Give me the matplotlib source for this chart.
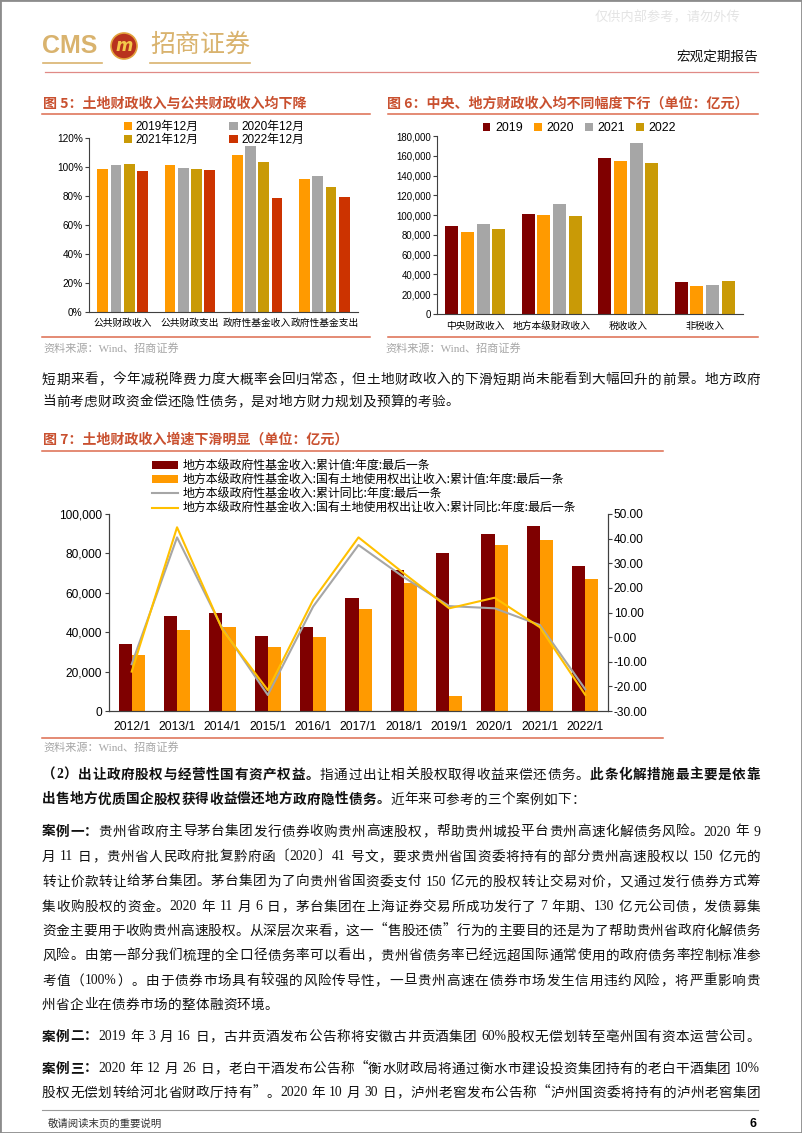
import re
import numpy as np
import matplotlib
matplotlib.use('Agg')
import matplotlib.pyplot as plt
import matplotlib.transforms as mtransforms
from matplotlib.patches import Patch, Rectangle, Ellipse
from matplotlib.lines import Line2D
from matplotlib.ticker import FuncFormatter, MultipleLocator

plt.rcParams['font.family'] = ['Liberation Sans', 'Noto Sans CJK SC', 'DejaVu Sans']
plt.rcParams['axes.unicode_minus'] = False

# ---------------- 数据 ----------------
# 图5
fig5_cats = ['公共财政收入', '公共财政支出', '政府性基金收入', '政府性基金支出']
fig5_labels = ['2019年12月', '2020年12月', '2021年12月', '2022年12月']
fig5_2019 = [98.8, 101.5, 108.5, 91.6]
fig5_2020 = [101.1, 99.0, 114.2, 93.5]
fig5_2021 = [102.2, 98.3, 103.6, 86.5]
fig5_2022 = [96.9, 97.6, 78.9, 79.6]

# 图6 (亿元)
fig6_cats = ['中央财政收入', '地方本级财政收入', '税收收入', '非税收入']
fig6_labels = ['2019', '2020', '2021', '2022']
fig6_2019 = [89300, 101100, 158000, 32400]
fig6_2020 = [82800, 100100, 154300, 28600]
fig6_2021 = [91500, 111100, 172700, 29700]
fig6_2022 = [85800, 99600, 153100, 33000]

# 图7
fig7_years = ['2012/1', '2013/1', '2014/1', '2015/1', '2016/1', '2017/1',
              '2018/1', '2019/1', '2020/1', '2021/1', '2022/1']
fund_income = [34200, 48000, 49900, 38200, 42500, 57600, 71400, 80400, 89900, 93900, 73600]
land_income = [28500, 41200, 42600, 32300, 37400, 52000, 65000, 7600, 84100, 86900, 66800]
fund_yoy = [-11.0, 40.5, 3.5, -23.5, 12.4, 37.4, 24.3, 12.6, 11.7, 4.9, -21.2]
land_yoy = [-14.0, 44.6, 3.0, -21.5, 15.1, 40.5, 25.9, 11.7, 16.0, 4.0, -23.5]
fig7_legend = ['地方本级政府性基金收入:累计值:年度:最后一条',
               '地方本级政府性基金收入:国有土地使用权出让收入:累计值:年度:最后一条',
               '地方本级政府性基金收入:累计同比:年度:最后一条',
               '地方本级政府性基金收入:国有土地使用权出让收入:累计同比:年度:最后一条']

# 正文
para1 = [
    [('短期来看，今年减税降费力度大概率会回归常态，但土地财政收入的下滑短期尚未能看到大幅回升的前景。地方政府', False)],
    [('当前考虑财政资金偿还隐性债务，是对地方财力规划及预算的考验。', False)],
]
para2 = [
    [('（2）出让政府股权与经营性国有资产权益。', True), ('指通过出让相关股权取得收益来偿还债务。', False),
     ('此条化解措施最主要是依靠', True)],
    [('出售地方优质国企股权获得收益偿还地方政府隐性债务。', True), ('近年来可参考的三个案例如下：', False)],
]
case1 = [
    [('案例一：', True), ('贵州省政府主导茅台集团发行债券收购贵州高速股权，帮助贵州城投平台贵州高速化解债务风险。2020 年 9', False)],
    [('月 11 日，贵州省人民政府批复黔府函〔2020〕41 号文，要求贵州省国资委将持有的部分贵州高速股权以 150 亿元的', False)],
    [('转让价款转让给茅台集团。茅台集团为了向贵州省国资委支付 150 亿元的股权转让交易对价，又通过发行债券方式筹', False)],
    [('集收购股权的资金。2020 年 11 月 6 日，茅台集团在上海证券交易所成功发行了 7 年期、130 亿元公司债，发债募集', False)],
    [('资金主要用于收购贵州高速股权。从深层次来看，这一“售股还债”行为的主要目的还是为了帮助贵州省政府化解债务', False)],
    [('风险。由第一部分我们梳理的全口径债务率可以看出，贵州省债务率已经远超国际通常使用的政府债务率控制标准参', False)],
    [('考值（100%）。由于债券市场具有较强的风险传导性，一旦贵州高速在债券市场发生信用违约风险，将严重影响贵', False)],
    [('州省企业在债券市场的整体融资环境。', False)],
]
case2 = [
    [('案例二：', True), ('2019 年 3 月 16 日，古井贡酒发布公告称将安徽古井贡酒集团 60%股权无偿划转至亳州国有资本运营公司。', False)],
]
case3 = [
    [('案例三：', True), ('2020 年 12 月 26 日，老白干酒发布公告称“衡水财政局将通过衡水市建设投资集团持有的老白干酒集团 10%', False)],
    [('股权无偿划转给河北省财政厅持有”。2020 年 10 月 30 日，泸州老窖发布公告称“泸州国资委将持有的泸州老窖集团', False)],
]

# ---------------- 画布 ----------------
W, H = 802, 1133
fig = plt.figure(figsize=(W / 100, H / 100), dpi=100)
fig.patch.set_facecolor('white')
# 像素坐标（左上角为原点）
PX = mtransforms.Affine2D().scale(1 / W, -1 / H).translate(0, 1) + fig.transFigure
renderer = fig.canvas.get_renderer()

CJK = ['Noto Sans CJK SC', 'DejaVu Sans']
SERIF = ['Liberation Serif', 'Noto Sans CJK SC']
RED_LINE = '#DC6B4E'
TITLE_COL = '#C9502F'
GOLD = '#D9B36E'
TITLE_SIZE = 10.1


def ax_at(left, top, right, bottom):
    return fig.add_axes([left / W, 1 - bottom / H, (right - left) / W, (bottom - top) / H])


def hline(y, x0, x1, color=RED_LINE, lw=1.1):
    fig.add_artist(Line2D([x0, x1], [y, y], transform=PX, color=color, lw=lw))


def ptext(x, y, s, **kw):
    kw.setdefault('va', 'center')
    return fig.text(x, y, s, transform=PX, **kw)


# 正文逐字排版，两端对齐
def font_for(tok):
    return SERIF if tok.isascii() else CJK


_wcache = {}


def tok_width(tok, bold, size):
    key = (tok, bold, size)
    if key not in _wcache:
        if tok == ' ':
            _wcache[key] = size * 100 / 72 * 0.25
        else:
            t = fig.text(0, 0, tok, fontsize=size, family=font_for(tok),
                         fontweight='bold' if bold else 'normal')
            _wcache[key] = t.get_window_extent(renderer).width
            t.remove()
    return _wcache[key]


def draw_line(y, segments, justify=True, x0=42, x1=760, size=9.8):
    toks = []
    for text, bold in segments:
        for tk in re.findall(r'[0-9A-Za-z%.]+| |.', text):
            toks.append((tk, bold))
    widths = [tok_width(t, b, size) for t, b in toks]
    gap = 0.3
    if justify and len(toks) > 1:
        gap = (x1 - x0 - sum(widths)) / (len(toks) - 1)
    x = x0
    for (tk, b), w in zip(toks, widths):
        if tk != ' ':
            fig.text(x, y + 4.5, tk, transform=PX, fontsize=size, family=font_for(tk),
                     fontweight='bold' if b else 'normal', va='baseline', ha='left',
                     color='#111111')
        x += w + gap


def draw_para(ys, lines, last_justify=False):
    for i, (y, segs) in enumerate(zip(ys, lines)):
        last = i == len(lines) - 1
        draw_line(y, segs, justify=(not last) or last_justify)


# ---------------- 页眉 ----------------
fig.add_artist(Rectangle((0, 0), 1, 1, transform=fig.transFigure, fill=False,
                         edgecolor='#8c8c8c', lw=2))
ptext(595, 18, '仅供内部参考，请勿外传', fontsize=9.5, family=CJK, color='#e4e4e4')
ptext(42, 46, 'CMS', fontsize=18, fontweight='bold', color=GOLD, family=['Liberation Sans'])
fig.add_artist(Ellipse((124, 46), 26, 26, transform=PX, facecolor='#B8321E',
                       edgecolor='#E2A23C', lw=1.2))
ptext(124, 46, 'm', fontsize=12, fontweight='bold', style='italic', color='#F4C84A',
      ha='center', family=['DejaVu Sans'])
ptext(150, 45, '招商证券', fontsize=18, color=GOLD, family=CJK)
hline(63, 43, 102, color=GOLD, lw=1.2)
hline(63, 150, 250, color=GOLD, lw=1.2)
hline(72, 45, 758, color='#E08A86', lw=0.9)
ptext(758, 57, '宏观定期报告', fontsize=9.8, family=CJK, ha='right', color='#111111')

# ---------------- 图5 ----------------
ptext(43, 104, '图 5：土地财政收入与公共财政收入均下降', fontsize=TITLE_SIZE, fontweight='bold',
      family=CJK, color=TITLE_COL)
hline(114, 42, 370)
hline(337, 42, 370)
ptext(43, 348, '资料来源：Wind、招商证券', fontsize=8, family=SERIF, color='#a6a6a6')

ax5 = ax_at(89, 138, 358, 312)
x5 = np.arange(len(fig5_cats))
colors5 = ['#FF9A00', '#A6A6A6', '#C99A06', '#CC3300']
bars5 = []
for k, (vals, col, lab) in enumerate(zip([fig5_2019, fig5_2020, fig5_2021, fig5_2022],
                                          colors5, fig5_labels)):
    bars5.append(ax5.bar(x5 + (k - 1.5) * 0.198, vals, width=0.16, color=col, label=lab))
ax5.set_xlim(-0.5, 3.5)
ax5.set_ylim(0, 120)
ax5.yaxis.set_major_locator(MultipleLocator(20))
ax5.yaxis.set_major_formatter(FuncFormatter(lambda v, p: f'{v:.0f}%'))
ax5.set_xticks(x5, fig5_cats, family=CJK)
ax5.tick_params(axis='x', length=0, pad=4, labelsize=7)
ax5.tick_params(axis='y', length=3, width=0.8, pad=1.5, labelsize=7.2, color='#404040')
for s in ['top', 'right']:
    ax5.spines[s].set_visible(False)
for s in ['left', 'bottom']:
    ax5.spines[s].set_color('#404040')
    ax5.spines[s].set_linewidth(0.8)
order = [0, 2, 1, 3]
ax5.legend([bars5[i] for i in order], [fig5_labels[i] for i in order], ncol=2,
           loc='upper left', bbox_to_anchor=(124, 121), bbox_transform=PX,
           frameon=False, borderpad=0, borderaxespad=0,
           handlelength=0.7, handleheight=0.7, handletextpad=0.3,
           columnspacing=2.6, labelspacing=0.08,
           prop={'family': ['Liberation Sans', 'Noto Sans CJK SC'], 'size': 8.5})

# ---------------- 图6 ----------------
ptext(387, 104, '图 6：中央、地方财政收入均不同幅度下行（单位：亿元）', fontsize=TITLE_SIZE,
      fontweight='bold', family=CJK, color=TITLE_COL)
hline(114, 388, 758)
hline(337, 388, 758)
ptext(385, 348, '资料来源：Wind、招商证券', fontsize=8, family=SERIF, color='#a6a6a6')

ax6 = ax_at(437, 136, 743, 314)
x6 = np.arange(len(fig6_cats))
colors6 = ['#7F0000', '#FF9A00', '#A6A6A6', '#C99A06']
for k, (vals, col, lab) in enumerate(zip([fig6_2019, fig6_2020, fig6_2021, fig6_2022],
                                          colors6, fig6_labels)):
    ax6.bar(x6 + (k - 1.5) * 0.205, vals, width=0.17, color=col, label=lab)
ax6.set_xlim(-0.5, 3.5)
ax6.set_ylim(0, 180000)
ax6.yaxis.set_major_locator(MultipleLocator(20000))
ax6.yaxis.set_major_formatter(FuncFormatter(lambda v, p: f'{v:,.0f}'))
ax6.set_xticks(x6, fig6_cats, family=CJK)
ax6.tick_params(axis='x', length=0, pad=5, labelsize=7)
ax6.tick_params(axis='y', length=3, width=0.8, pad=1.5, labelsize=6.9, color='#404040')
for s in ['top', 'right']:
    ax6.spines[s].set_visible(False)
for s in ['left', 'bottom']:
    ax6.spines[s].set_color('#404040')
    ax6.spines[s].set_linewidth(0.8)
ax6.legend(ncol=4, loc='upper left', bbox_to_anchor=(483, 122), bbox_transform=PX,
           frameon=False, borderpad=0, borderaxespad=0, fontsize=8.9,
           handlelength=0.6, handleheight=0.6, handletextpad=0.4, columnspacing=0.9)

# ---------------- 正文段落1 ----------------
draw_para([379, 401], para1)

# ---------------- 图7 ----------------
ptext(43, 440, '图 7：土地财政收入增速下滑明显（单位：亿元）', fontsize=TITLE_SIZE, fontweight='bold',
      family=CJK, color=TITLE_COL)
hline(451, 42, 663)
hline(738, 42, 663)
ptext(43, 747, '资料来源：Wind、招商证券', fontsize=8, family=SERIF, color='#a6a6a6')

ax7 = ax_at(109, 514, 608, 711)
x7 = np.arange(len(fig7_years))
ax7.bar(x7 - 0.145, fund_income, width=0.29, color='#7F0000')
ax7.bar(x7 + 0.145, land_income, width=0.29, color='#FF9A00')
ax7.set_xlim(-0.5, len(fig7_years) - 0.5)
ax7.set_ylim(0, 100000)
ax7.yaxis.set_major_locator(MultipleLocator(20000))
ax7.yaxis.set_major_formatter(FuncFormatter(lambda v, p: f'{v:,.0f}'))
ax7.set_xticks(x7, fig7_years)
ax7.tick_params(axis='x', length=0, pad=7, labelsize=8.7)
ax7.tick_params(axis='y', length=3, width=0.8, pad=2, labelsize=8.6, color='#404040')
ax8 = ax7.twinx()
ax8.plot(x7, fund_yoy, color='#A6A6A6', lw=1.5)
ax8.plot(x7, land_yoy, color='#FFC000', lw=1.5)
ax8.set_ylim(-30, 50)
ax8.yaxis.set_major_locator(MultipleLocator(10))
ax8.yaxis.set_major_formatter(FuncFormatter(lambda v, p: f'{v:.2f}'))
ax8.tick_params(axis='y', length=3, width=0.8, pad=1, labelsize=8.6, color='#404040')
for a in (ax7, ax8):
    a.spines['top'].set_visible(False)
    for s in ['left', 'right', 'bottom']:
        a.spines[s].set_color('#404040')
        a.spines[s].set_linewidth(0.8)
handles7 = [Patch(facecolor='#7F0000'), Patch(facecolor='#FF9A00'),
            Line2D([], [], color='#A6A6A6', lw=1.5), Line2D([], [], color='#FFC000', lw=1.5)]
ax8.legend(handles7, fig7_legend, loc='upper left', bbox_to_anchor=(152, 459),
           bbox_transform=PX, frameon=False, borderpad=0, borderaxespad=0,
           handlelength=2.2, handleheight=0.6, handletextpad=0.4, labelspacing=0.1,
           prop={'family': CJK, 'size': 8.6})

# ---------------- 正文段落2 ----------------
draw_para([774, 799], para2)
draw_para([831, 856, 881, 906, 930, 955, 980, 1004], case1)
draw_para([1036], case2, last_justify=True)
draw_para([1068, 1092], case3, last_justify=True)

# ---------------- 页脚 ----------------
hline(1110, 42, 758, color='#9a9a9a', lw=0.8)
ptext(48, 1124, '敬请阅读末页的重要说明', fontsize=7.5, family=CJK, color='#333333')
ptext(757, 1124, '6', fontsize=9, fontweight='bold', family=['Liberation Sans'], ha='right')

fig.savefig('out.png', dpi=100)
